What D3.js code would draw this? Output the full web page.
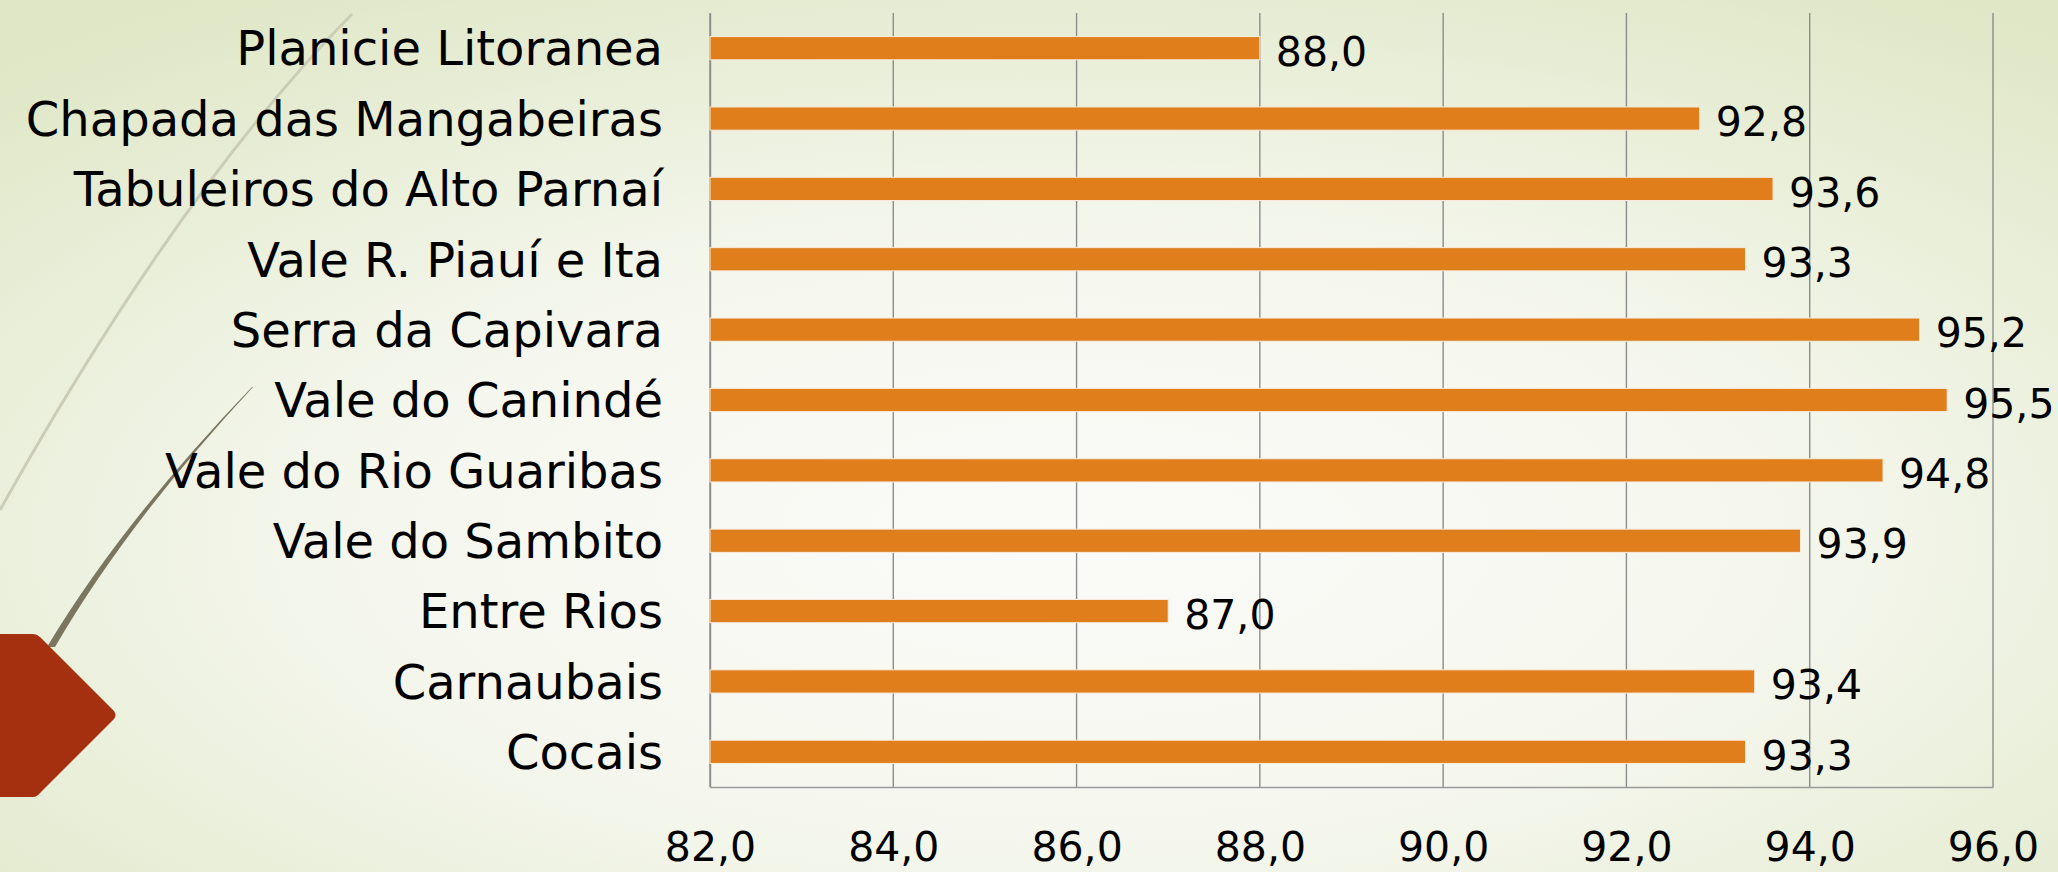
<!DOCTYPE html>
<html>
<head>
<meta charset="utf-8">
<script src="https://cdn.jsdelivr.net/npm/d3@7"></script>
<style>
  body { margin: 0; overflow: hidden; }
  text { font-family: "DejaVu Sans", sans-serif; fill: #000; }
</style>
</head>
<body>
<script>
const regions = [
  "Planicie Litoranea",
  "Chapada das Mangabeiras",
  "Tabuleiros do Alto Parnaí",
  "Vale R. Piauí e Ita",
  "Serra da Capivara",
  "Vale do Canindé",
  "Vale do Rio Guaribas",
  "Vale do Sambito",
  "Entre Rios",
  "Carnaubais",
  "Cocais"
];
const values = [88.0, 92.8, 93.6, 93.3, 95.2, 95.5, 94.8, 93.9, 87.0, 93.4, 93.3];
const xTicks = [82, 84, 86, 88, 90, 92, 94, 96];

const data = regions.map((r, i) => ({ region: r, value: values[i] }));

const W = 2058, H = 872;
const margin = { top: 13, right: 65, bottom: 85, left: 710 };
const width = W - margin.left - margin.right,
  height = H - margin.top - margin.bottom;

// pt-BR style numbers, comma as decimal mark
const fmt = d3.formatLocale({ decimal: ",", thousands: ".", grouping: [3], currency: ["", ""] }).format(".1f");

const root = d3.select("body").append("svg").attr("width", W).attr("height", H);

// background gradient (theme)
const defs = root.append("defs");
const grad = defs.append("radialGradient")
  .attr("id", "bg")
  .attr("cx", "52%").attr("cy", "62%").attr("r", "75%");
grad.append("stop").attr("offset", "0%").attr("stop-color", "#fbfbf8");
grad.append("stop").attr("offset", "45%").attr("stop-color", "#f5f7ee");
grad.append("stop").attr("offset", "100%").attr("stop-color", "#dfe7c6");
root.append("rect").attr("width", W).attr("height", H).attr("fill", "url(#bg)");

// decoration: thin pale curve, tapered dark curve, red tab
root.append("path")
  .attr("d", "M352,14 Q179,190 0,510")
  .attr("fill", "none")
  .attr("stroke", "#cbcdb6")
  .attr("stroke-width", 3);
root.append("path")
  .attr("d", "M252,387 Q122,522 47,647 L55,647 Q127,523 253,387 Z")
  .attr("fill", "#7b7660");
root.append("path")
  .attr("d", "M0,634 L33,634 Q37,634 40,637 L114,711 Q117,715 114,719 L40,793 Q37,797 33,797 L0,797 Z")
  .attr("fill", "#a53010");

const svg = root.append("g")
  .attr("transform", "translate(" + margin.left + "," + margin.top + ")");

// scales
const xScale = d3.scaleLinear().domain([82, 96]).range([0, width]);
const yScale = d3.scaleBand()
  .domain(regions)
  .range([0, height])
  .paddingInner(0.67)
  .paddingOuter(0.335);

// vertical grid lines
svg.selectAll(".grid")
  .data(xTicks)
  .enter()
  .append("line")
  .attr("class", "grid")
  .attr("x1", (d) => xScale(d))
  .attr("x2", (d) => xScale(d))
  .attr("y1", 0)
  .attr("y2", height)
  .attr("stroke", "#8c8c8c")
  .attr("stroke-width", 1.4);

// x axis at bottom
const xAxis = d3.axisBottom(xScale).tickValues(xTicks).tickSize(0).tickPadding(45).tickFormat(fmt);
svg.append("g")
  .attr("class", "x-axis")
  .attr("transform", `translate(0, ${height})`)
  .call(xAxis)
  .call((g) => g.select(".domain").attr("stroke", "#9a9a9a").attr("stroke-width", 1.6))
  .selectAll("text")
  .attr("font-size", 41)
  .attr("font-family", "DejaVu Sans")
  .attr("fill", "#000");

// y axis: labels only
const yAxis = d3.axisLeft(yScale).tickSize(0).tickPadding(47);
svg.append("g")
  .attr("class", "y-axis")
  .call(yAxis)
  .call((g) => g.select(".domain").attr("stroke", "#8c8c8c").attr("stroke-width", 1.4))
  .selectAll("text")
  .attr("font-size", 48)
  .attr("font-family", "DejaVu Sans")
  .attr("dy", "0.36em")
  .attr("fill", "#000");

// bars
svg.selectAll(".bar")
  .data(data)
  .enter()
  .append("rect")
  .attr("class", "bar")
  .attr("x", xScale(82))
  .attr("y", (d) => yScale(d.region))
  .attr("width", (d) => xScale(d.value) - xScale(82))
  .attr("height", yScale.bandwidth())
  .attr("fill", "#df7e1b")
  .attr("stroke", "#f6ece0")
  .attr("stroke-width", 1);

// value labels
svg.selectAll(".label")
  .data(data)
  .enter()
  .append("text")
  .attr("class", "label")
  .attr("x", (d) => xScale(d.value) + 16)
  .attr("y", (d) => yScale(d.region) + yScale.bandwidth() / 2 + 3)
  .attr("dy", "0.36em")
  .attr("font-size", 41)
  .text((d) => fmt(d.value));
</script>
</body>
</html>
